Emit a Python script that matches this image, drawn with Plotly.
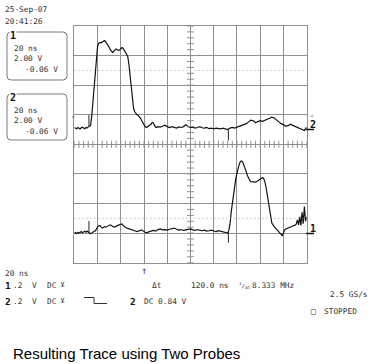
import numpy as np
import plotly.graph_objects as go

W, H = 371, 364

# ---------------- data (time in ns, amplitude in screen divisions) ----------------
# Channel 2 (upper trace)
ch2_t = list(range(0, 73)) + list(range(74, 201, 2))
ch2_v = [0.57, 0.55, 0.53, 0.57, 0.55, 0.52, 0.56, 0.58, 0.55, 0.53, 0.57, 0.55, 0.59, 0.62, 0.64,
         0.95, 1.45, 2.00, 2.50, 2.95, 3.30,
         3.42, 3.44, 3.43, 3.46, 3.48, 3.51, 3.47, 3.42, 3.36, 3.28,
         3.20, 3.14, 3.10, 3.15, 3.19, 3.22, 3.20, 3.18, 3.19, 3.23,
         3.27, 3.25, 3.18, 3.13, 3.08, 2.97, 2.70, 2.30, 1.80, 1.40,
         1.22, 1.10, 1.04, 1.00, 0.98, 0.94, 0.88, 0.80, 0.72, 0.64,
         0.60, 0.57, 0.60, 0.62, 0.63, 0.68, 0.74, 0.72, 0.64, 0.58, 0.57, 0.60,
         0.58, 0.61, 0.65, 0.60, 0.57, 0.60, 0.58, 0.55, 0.59, 0.57, 0.60, 0.66, 0.60, 0.57,
         0.58, 0.55, 0.57, 0.60, 0.56, 0.55, 0.57, 0.53, 0.55, 0.52, 0.55, 0.53, 0.52, 0.55,
         0.53, 0.50, 0.55, 0.57, 0.55, 0.58, 0.60, 0.62, 0.65, 0.70, 0.76, 0.82, 0.80, 0.73,
         0.77, 0.80, 0.78, 0.83, 0.85, 0.88, 0.92, 0.89, 0.84, 0.76, 0.70, 0.66, 0.62, 0.63,
         0.68, 0.64, 0.61, 0.58, 0.53, 0.50, 0.47, 0.58]

# Channel 1 (lower trace)
ch1_t = [0, 1, 2, 3, 4, 5, 6, 7, 8, 9, 10, 11, 12, 13, 14, 15, 16, 17, 18, 19, 20,
         21, 22, 23, 24, 25, 26, 27, 28, 29, 30, 31, 32, 33, 34, 35, 36, 38, 40, 41, 42,
         44, 46, 48, 50, 52, 54, 56, 58, 60, 62, 64, 66, 68, 70, 72, 74, 76, 78, 80, 82,
         84, 86, 88, 90, 92, 94, 96, 98, 100, 102, 104, 106, 108, 110, 112, 114, 116, 118,
         120, 122, 124, 126, 128, 130, 132, 133, 134, 135, 136, 137, 138, 139, 140, 141,
         142, 143, 144, 145, 146, 147, 148, 149, 150, 151, 152, 154, 156, 158, 160, 161,
         162, 163, 164, 165, 166, 167, 168, 169, 170, 172, 174, 176, 178, 179, 180, 181,
         182, 184, 186, 188, 190, 191, 192, 193, 194, 195, 196, 197, 198, 199, 200]
ch1_v = [-3.00, -2.98, -3.02, -2.97, -3.00, -2.98, -2.95, -2.99, -2.96, -2.94, -2.97,
         -2.93, -2.96, -2.98, -3.02, -3.00, -2.96, -2.94, -2.93, -2.85, -2.80,
         -2.76, -2.74, -2.79, -2.83, -2.81, -2.78, -2.80, -2.78, -2.75, -2.73,
         -2.72, -2.74, -2.78, -2.80, -2.79, -2.76, -2.73, -2.70, -2.69, -2.74,
         -2.81, -2.84, -2.86, -2.88, -2.92, -2.95, -2.92, -2.89, -2.95, -3.00,
         -2.96, -2.93, -2.91, -2.93, -2.88, -2.86, -2.89, -2.88, -2.90, -2.87,
         -2.85, -2.83, -2.87, -2.90, -2.88, -2.91, -2.89, -2.87, -2.86, -2.89,
         -2.91, -2.88, -2.90, -2.92, -2.90, -2.93, -2.92, -2.90,
         -2.93, -2.95, -2.92, -2.94, -2.95, -2.97, -3.00, -2.90, -2.70, -2.30,
         -1.99, -1.65, -1.37, -1.15, -0.97, -0.78,
         -0.66, -0.58, -0.56, -0.61, -0.70, -0.80, -0.93, -1.05, -1.15, -1.22,
         -1.26, -1.27, -1.28, -1.23, -1.18, -1.15,
         -1.12, -1.16, -1.26, -1.45, -1.70, -1.95, -2.30, -2.52, -2.66, -2.78,
         -2.86, -2.93, -3.04, -3.09, -2.98, -2.89,
         -2.86, -2.82, -2.79, -2.76, -2.73, -2.70, -2.55, -2.72, -2.45, -2.74,
         -2.30, -2.68, -2.10, -2.60, -2.45]

assert len(ch2_t) == len(ch2_v)
assert len(ch1_t) == len(ch1_v)

time_per_div = 20          # ns / div
n_xdiv, n_ydiv = 10, 8
cursor1 = 12.6             # ns
delta_t = 120.0            # ns
cursor2 = cursor1 + delta_t
trigger_pos = 60           # ns

header_lines = ["25-Sep-07", "20:41:26"]
box_lines = ["20 ns", "2.00 V", "-0.06 V"]
caption = "Resulting Trace using Two Probes"

# ---------------- styling ----------------
MONO = "DejaVu Sans Mono"
TXT = "#333333"
GRID = "#8f8f8f"


def X(px):
    return px / W


def Y(py):
    return 1 - py / H


fig = go.Figure()

# traces
fig.add_trace(go.Scatter(x=ch2_t, y=ch2_v, mode="lines",
                         line=dict(color="#111111", width=1.2), hoverinfo="skip"))
fig.add_trace(go.Scatter(x=ch1_t, y=ch1_v, mode="lines",
                         line=dict(color="#111111", width=1.2), hoverinfo="skip"))

# minor ticks along the centre cross
minor_x = [i * time_per_div / 5 for i in range(0, n_xdiv * 5 + 1)]
minor_y = [-n_ydiv / 2 + i / 5 for i in range(0, n_ydiv * 5 + 1)]
fig.add_trace(go.Scatter(x=minor_x, y=[0] * len(minor_x), mode="markers",
                         marker=dict(symbol="line-ns-open", size=5, color=GRID,
                                     line=dict(color=GRID, width=1)),
                         hoverinfo="skip"))
fig.add_trace(go.Scatter(x=[time_per_div * n_xdiv / 2] * len(minor_y), y=minor_y, mode="markers",
                         marker=dict(symbol="line-ew-open", size=5, color=GRID,
                                     line=dict(color=GRID, width=1)),
                         hoverinfo="skip"))

shapes = []
# dotted reference lines
for lvl in (2.5, -2.5):
    shapes.append(dict(type="line", xref="x", yref="y", x0=0, x1=time_per_div * n_xdiv,
                       y0=lvl, y1=lvl, line=dict(color="#9a9a9a", width=1, dash="1px,3px")))


def rbox(x0, y0, x1, y1, r=4):
    return (f"M{X(x0 + r)},{Y(y0)} L{X(x1 - r)},{Y(y0)} Q{X(x1)},{Y(y0)} {X(x1)},{Y(y0 + r)} "
            f"L{X(x1)},{Y(y1 - r)} Q{X(x1)},{Y(y1)} {X(x1 - r)},{Y(y1)} "
            f"L{X(x0 + r)},{Y(y1)} Q{X(x0)},{Y(y1)} {X(x0)},{Y(y1 - r)} "
            f"L{X(x0)},{Y(y0 + r)} Q{X(x0)},{Y(y0)} {X(x0 + r)},{Y(y0)} Z")


shapes.append(dict(type="path", xref="paper", yref="paper", path=rbox(7, 32, 67, 80),
                   line=dict(color="#7a7a7a", width=1)))
shapes.append(dict(type="path", xref="paper", yref="paper", path=rbox(7, 94, 67, 140),
                   line=dict(color="#7a7a7a", width=1)))
# step symbol in footer
shapes.append(dict(type="path", xref="paper", yref="paper",
                   path=f"M{X(84)},{Y(297.5)} L{X(94)},{Y(297.5)} L{X(94)},{Y(303.5)} L{X(107)},{Y(303.5)}",
                   line=dict(color=TXT, width=1)))
# ground level markers on right
for yy in (129.5, 233.5):
    shapes.append(dict(type="line", xref="paper", yref="paper", x0=X(306), x1=X(314),
                       y0=Y(yy), y1=Y(yy), line=dict(color="#111111", width=1.5)))

# cursor marks on the traces: short vertical strokes (above at cursor 1, below at cursor 2)
for c, off in ((cursor1, 0.38), (cursor2, -0.38)):
    for tt, vv in ((ch2_t, ch2_v), (ch1_t, ch1_v)):
        yv = float(np.interp(c, tt, vv))
        shapes.append(dict(type="line", xref="x", yref="y", x0=c, x1=c, y0=yv, y1=yv + off,
                           line=dict(color="#222222", width=1)))

anns = []


def text(s, x, y, size=7.8, bold=False, color=TXT, font=MONO, anchor="left", bg=None):
    d = dict(text=f"<b>{s}</b>" if bold else s, x=X(x), y=Y(y), xref="paper", yref="paper",
             xanchor=anchor, yanchor="middle", showarrow=False,
             font=dict(family=font, size=size, color=color), borderpad=0)
    if bg:
        d["bgcolor"] = bg
    anns.append(d)


text(header_lines[0], 4, 9.5)
text(header_lines[1], 4, 21)

for lab, top in (("1", 32), ("2", 94)):
    text(lab, 9, top + 3.5, size=10, bold=True, color="#111111", bg="white")
    text(box_lines[0], 13, top + 16.5)
    text(box_lines[1], 13, top + 26.5)
    text(box_lines[2], 24, top + 37)

# footer
text("20 ns", 4, 273.5)
for lab, yy in (("1", 285), ("2", 301)):
    text(lab, 4, yy, size=9.5, bold=True, color="#111111")
    text(".2", 12, yy)
    text("V", 30.5, yy)
    text("DC", 45.5, yy)
    text("⊻", 59, yy, size=7)
text("Δt", 150.5, 285)
text(f"{delta_t:.1f} ns", 189.5, 285)
text("<sup>1</sup>/<sub>Δt</sub>", 238, 285, size=6)
text(f"{1000 / delta_t:.3f} MHz", 250.5, 285)
text("2.5 GS/s", 329, 294.5)
text("2", 128.5, 301, size=9.5, bold=True, color="#111111")
text("DC 0.84 V", 143, 301)
text("□", 309.5, 311, size=8)
text("STOPPED", 323, 311)

# right side channel labels
text("2", 308.5, 124, size=10, bold=True, color="#111111")
text("1", 308.5, 228, size=10, bold=True, color="#111111")
# trigger level markers
text("▹", 70, 116.5, size=8, color="#666666")
text("◃", 307.5, 115, size=8, color="#888888")

# caption
text(caption, 12, 353, size=15, color="#000000", font="Liberation Sans")

# trigger position arrow below grid
anns.append(dict(text="↑", x=trigger_pos, y=Y(264), xref="x", yref="paper",
                 xanchor="center", yanchor="top", showarrow=False, borderpad=0,
                 font=dict(family=MONO, size=10, color="#444444")))

fig.update_layout(
    width=W, height=H, autosize=False,
    margin=dict(l=0, r=0, t=0, b=0),
    paper_bgcolor="white", plot_bgcolor="white",
    showlegend=False,
    shapes=shapes, annotations=anns,
    xaxis=dict(domain=[X(74.3), X(306.7)], range=[0, time_per_div * n_xdiv], dtick=time_per_div,
               showgrid=True, gridcolor=GRID, gridwidth=1, zeroline=False,
               showticklabels=False, ticks="", showline=True, mirror=True,
               linecolor=GRID, linewidth=1, fixedrange=True),
    yaxis=dict(domain=[Y(262.7), Y(26)], range=[-n_ydiv / 2, n_ydiv / 2], dtick=1,
               showgrid=True, gridcolor=GRID, gridwidth=1, zeroline=False,
               showticklabels=False, ticks="", showline=True, mirror=True,
               linecolor=GRID, linewidth=1, fixedrange=True),
)

fig.write_html("out.html", config={"displayModeBar": False},
               post_script="document.body.style.margin='0';document.body.style.overflow='hidden';")
